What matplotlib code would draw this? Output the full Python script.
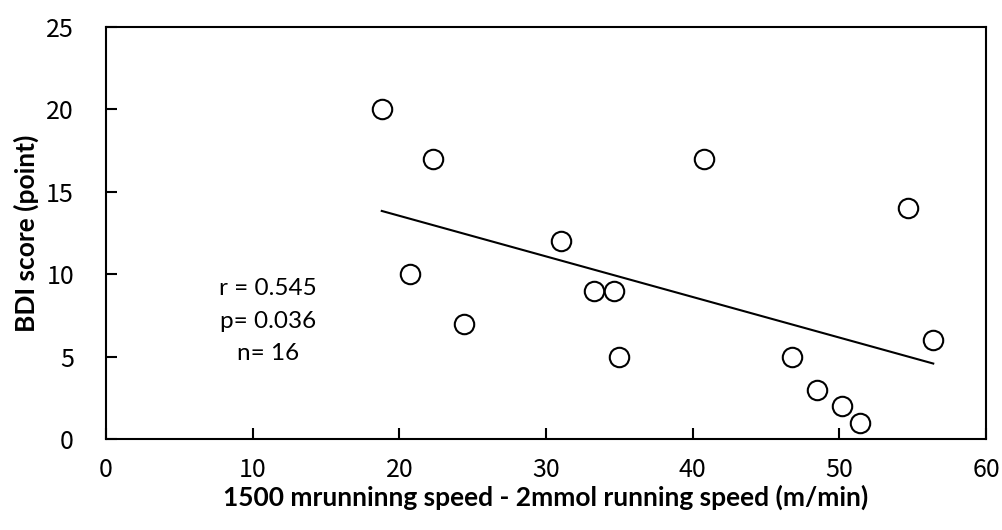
import numpy as np
import matplotlib
matplotlib.use('Agg')
import matplotlib.pyplot as plt

# speed difference (m/min) vs BDI score
speed_diff = [18.8, 22.3, 20.7, 24.4, 31.0, 33.3, 34.6, 40.8, 35.0,
              54.7, 56.4, 46.8, 48.5, 50.2, 51.4]
bdi_score = [20, 17, 10, 7, 12, 9, 9, 17, 5, 14, 6, 5, 3, 2, 1]

# regression line
trend_slope = -0.2463
trend_intercept = 18.47

stats_text = 'r = 0.545\np= 0.036\nn= 16'

x_ticks = [0, 10, 20, 30, 40, 50, 60]
y_ticks = [0, 5, 10, 15, 20, 25]

fig = plt.figure(figsize=(10.03, 5.30), dpi=100)
ax = fig.add_axes([0.1057, 0.1717, 0.8774, 0.7773])

x = np.array(speed_diff)
xl = np.array([x.min(), x.max()])
ax.plot(xl, trend_intercept + trend_slope * xl, color='black', lw=1.5, zorder=2)
ax.plot(speed_diff, bdi_score, 'o', ms=14, mfc='white', mec='black', mew=1.5,
        zorder=3, clip_on=False)

ax.set_xlim(0, 60)
ax.set_ylim(0, 25)
ax.set_xticks(x_ticks)
ax.set_yticks(y_ticks)

tick_font = ['Noto Sans CJK JP', 'DejaVu Sans']
for lab in ax.get_xticklabels() + ax.get_yticklabels():
    lab.set_family(tick_font)
    lab.set_fontsize(18)

ax.tick_params(axis='both', direction='in', length=8, width=1.5, top=False, right=False)
ax.tick_params(axis='x', pad=13)
ax.tick_params(axis='y', pad=23)
for s in ax.spines.values():
    s.set_linewidth(1.5)

ax.set_xlabel('1500 mrunninng speed - 2mmol running speed (m/min)',
              fontsize=19, fontweight='bold', family='Lato', labelpad=1)
ax.set_ylabel('BDI score (point)', fontsize=19, fontweight='bold', family='Lato',
              labelpad=5)

ax.text(11.04, 7.16, stats_text, ha='center', va='center', multialignment='center',
        fontsize=17.5, family='Lato', linespacing=1.65)

fig.savefig('out.png', dpi=100)
